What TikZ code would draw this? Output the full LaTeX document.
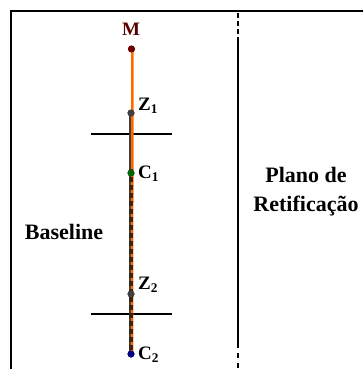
\documentclass[tikz,border=0pt]{standalone}
\usepackage{fontspec}
\setmainfont{Liberation Serif}
\definecolor{myorange}{HTML}{FF6A00}
\definecolor{mred}{HTML}{6E0000}
\definecolor{mgreen}{HTML}{006400}
\definecolor{mnavy}{HTML}{000080}
\definecolor{mgray}{HTML}{404040}
\definecolor{mbrown}{HTML}{3A2414}
\begin{document}
\begin{tikzpicture}[x=1pt,y=-1pt,
  ptnode/.style={circle,inner sep=0pt,minimum size=7pt},
  txt/.style={font=\bfseries\fontsize{22}{29}\selectfont,inner sep=0pt},
  lbl/.style={font=\bfseries\fontsize{19}{22}\selectfont,inner sep=0pt,anchor=west},
  heavy/.style={line width=2pt,black}]
\useasboundingbox (0,0) rectangle (363,369);
% frame
\draw[heavy] (10.5,369) -- (10.5,11) -- (363,11);
% rectification plane line
\draw[line width=2.5pt,dash pattern=on 5pt off 3pt] (238,13) -- (238,35);
\draw[line width=2.5pt] (238,37) -- (238,348);
\draw[line width=2.5pt,dash pattern=on 5pt off 5pt] (238,353) -- (238,369);
% points
\node[ptnode,fill=mred] (M) at (131.5,49) {};
\node[ptnode,fill=mgray] (Z1) at (131,113) {};
\node[ptnode,fill=mgreen] (C1) at (131,173) {};
\node[ptnode,fill=mgray] (Z2) at (131,294) {};
\node[ptnode,fill=mnavy] (C2) at (131,354) {};
% horizontal ticks
\coordinate (h1a) at (91,134); \coordinate (h1b) at (172,134);
\coordinate (h2a) at (91,314); \coordinate (h2b) at (172,314);
\draw[heavy] (h1a) -- (h1b);
\draw[heavy] (h2a) -- (h2b);
% lines
\draw[line width=2pt,mgray] ([xshift=-1.5pt]Z1.center) -- ([xshift=-1.5pt]C2.center);
\draw[line width=2.5pt,myorange] ([xshift=1pt]M.center) -- ([xshift=1pt]C2.center);
\draw[line width=4pt,mbrown,dash pattern=on 5pt off 3pt] ([yshift=4pt]C1.center) -- (C2.center);
% redraw points on top
\node[ptnode,fill=mred] at (M) {};
\node[ptnode,fill=mgray] at (Z1) {};
\node[ptnode,fill=mgreen] at (C1) {};
\node[ptnode,fill=mgray] at (Z2) {};
\node[ptnode,fill=mnavy] at (C2) {};
% labels
\node[lbl,anchor=center,text=mred!80!black] (Mlab) at (131,29.5) {M};
\node[lbl] (Z1lab) at (138,106) {Z\textsubscript{1}};
\node[lbl] (C1lab) at (138,174) {C\textsubscript{1}};
\node[lbl] (Z2lab) at (138,285) {Z\textsubscript{2}};
\node[lbl] (C2lab) at (138,355) {C\textsubscript{2}};
\node[txt] (base) at (64,232) {Baseline};
\node[txt,align=center] (plano) at (306,192) {Plano de\\Retificação};
\end{tikzpicture}
\end{document}
